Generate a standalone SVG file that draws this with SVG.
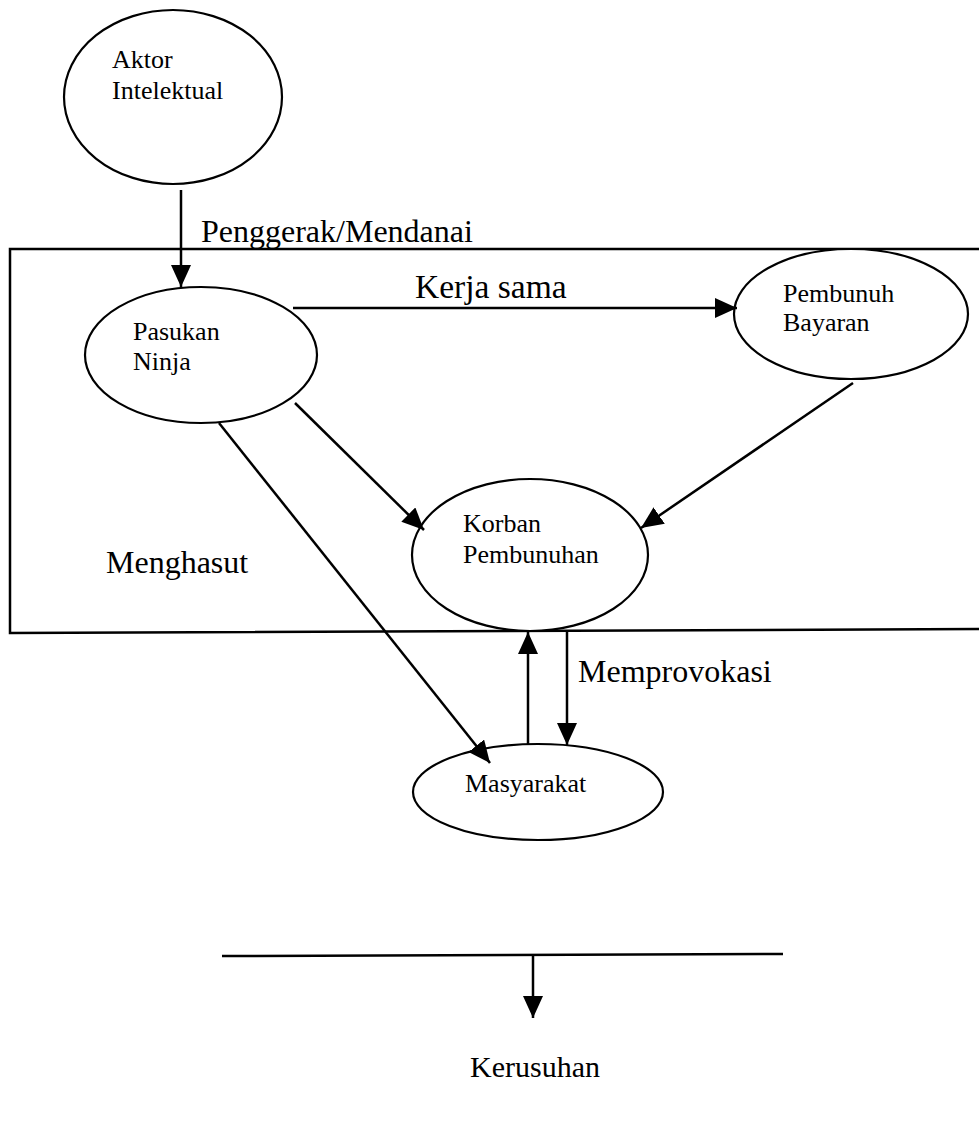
<svg xmlns="http://www.w3.org/2000/svg" width="979" height="1125" viewBox="0 0 979 1125">
  <style>
    .node { fill: #ffffff; stroke: #000000; stroke-width: 2.2; }
    .nlabel { font-family: "Liberation Serif", "Times New Roman", serif; font-size: 26px; fill: #000000; }
    .elabel { font-family: "Liberation Serif", "Times New Roman", serif; font-size: 32px; fill: #000000; }
    .edge { fill: none; stroke: #000000; stroke-width: 2.5; }
    .frame { fill: none; stroke: #000000; stroke-width: 2.5; }
  </style>
  <defs>
    <marker id="head" viewBox="0 0 22 20" refX="22" refY="10" markerWidth="22" markerHeight="20" markerUnits="userSpaceOnUse" orient="auto">
      <path d="M0,0 L22,10 L0,20 Z" fill="#000000"/>
    </marker>
  </defs>
  <rect width="979" height="1125" fill="#ffffff"/>

  <!-- boundary around the field actors (open on the right) -->
  <g id="frame">
    <path class="frame" d="M979,249 L10,249 L10,633 L979,629"/>
  </g>

  <g id="aktor">
    <ellipse class="node" cx="173" cy="97" rx="109" ry="87"/>
    <text class="nlabel" x="112" y="68">Aktor</text>
    <text class="nlabel" x="112" y="99">Intelektual</text>
  </g>

  <g id="pasukan">
    <ellipse class="node" cx="201" cy="355" rx="116" ry="68"/>
    <text class="nlabel" x="133" y="340">Pasukan</text>
    <text class="nlabel" x="133" y="370">Ninja</text>
  </g>

  <g id="pembunuh">
    <ellipse class="node" cx="851" cy="314" rx="117" ry="65"/>
    <text class="nlabel" x="783" y="302">Pembunuh</text>
    <text class="nlabel" x="783" y="331">Bayaran</text>
  </g>

  <g id="korban">
    <ellipse class="node" cx="530" cy="555" rx="118" ry="76"/>
    <text class="nlabel" x="463" y="532">Korban</text>
    <text class="nlabel" x="463" y="563">Pembunuhan</text>
  </g>

  <g id="masyarakat">
    <ellipse class="node" cx="538" cy="792" rx="125" ry="48"/>
    <text class="nlabel" x="465" y="792">Masyarakat</text>
  </g>

  <g id="connectors">
    <line class="edge" x1="181" y1="190" x2="181" y2="287" marker-end="url(#head)"/>
    <line class="edge" x1="293" y1="308" x2="737" y2="308" marker-end="url(#head)"/>
    <line class="edge" x1="295" y1="403" x2="424" y2="530" marker-end="url(#head)"/>
    <line class="edge" x1="853" y1="383" x2="641" y2="528" marker-end="url(#head)"/>
    <line class="edge" x1="219" y1="423" x2="490" y2="763" marker-end="url(#head)"/>
    <line class="edge" x1="528" y1="745" x2="528" y2="632" marker-end="url(#head)"/>
    <line class="edge" x1="567" y1="630" x2="567" y2="745" marker-end="url(#head)"/>
    <line class="edge" x1="222" y1="956" x2="783" y2="954"/>
    <line class="edge" x1="533" y1="955" x2="533" y2="1018" marker-end="url(#head)"/>
  </g>

  <g id="labels">
    <text class="elabel" x="201" y="242">Penggerak/Mendanai</text>
    <text class="elabel" x="415" y="298" style="font-size:33.5px">Kerja sama</text>
    <text class="elabel" x="106" y="573">Menghasut</text>
    <text class="elabel" x="578" y="682">Memprovokasi</text>
    <text class="elabel" x="470" y="1077" style="font-size:30px">Kerusuhan</text>
  </g>
</svg>
